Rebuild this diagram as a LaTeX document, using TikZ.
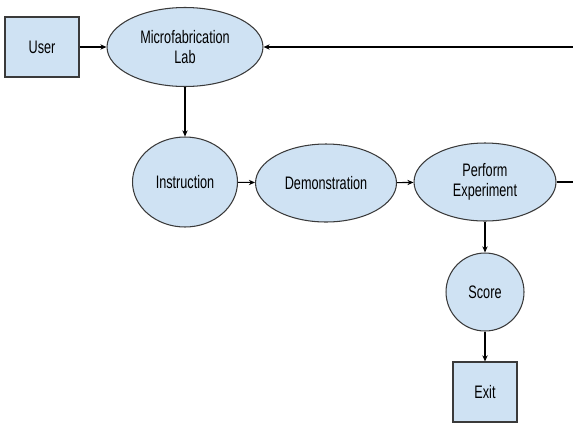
\documentclass[tikz,border=0pt]{standalone}
\usepackage{fontspec}
\setmainfont{Liberation Sans}[FakeStretch=0.7]
\usetikzlibrary{shapes,arrows.meta}
\definecolor{boxfill}{HTML}{CFE2F3}
\definecolor{boxline}{HTML}{3A3A3A}

\begin{document}
\begin{tikzpicture}[x=0.02cm,y=-0.02cm,
  font=\fontsize{10.3}{11.5}\selectfont,
  stage/.style={shape=ellipse,draw=boxline,fill=boxfill,align=center,line width=0.6pt,inner sep=0pt},
  block/.style={shape=rectangle,draw=boxline,fill=boxfill,align=center,line width=0.6pt,inner sep=0pt},
  flow/.style={-{Stealth[length=3.5pt,width=3pt]},draw=black,line width=0.6pt}]
\useasboundingbox (0,0) rectangle (573,423);
\node[block,minimum width=1.48cm,minimum height=1.2cm] (user) at (42,47) {User};
\node[stage,minimum width=3.12cm,minimum height=1.58cm] (lab) at (185,47) {Microfabrication\\Lab};
\node[stage,minimum width=2.1cm,minimum height=1.8cm] (instr) at (185,182) {Instruction};
\node[stage,minimum width=2.82cm,minimum height=1.56cm] (demo) at (326,183) {Demonstration};
\node[stage,minimum width=2.84cm,minimum height=1.56cm] (perform) at (485,182) {Perform\\Experiment};
\node[shape=circle,draw=boxline,fill=boxfill,line width=0.6pt,inner sep=0pt,minimum size=1.56cm] (score) at (485,292) {Score};
\node[block,minimum width=1.28cm,minimum height=1.2cm] (exit) at (485,392) {Exit};
\coordinate (back) at (580,47);
\coordinate (out) at (580,182);

\path [flow] (user) edge node {} (lab);
\path [flow] (back) edge node {} (lab);
\path [flow] (lab) edge node {} (instr);
\path [flow] (instr) edge node {} (demo);
\path [flow] (demo) edge node {} (perform);
\path [draw=black,line width=0.6pt] (perform) edge node {} (out);
\path [flow] (perform) edge node {} (score);
\path [flow] (score) edge node {} (exit);
\end{tikzpicture}
\end{document}
